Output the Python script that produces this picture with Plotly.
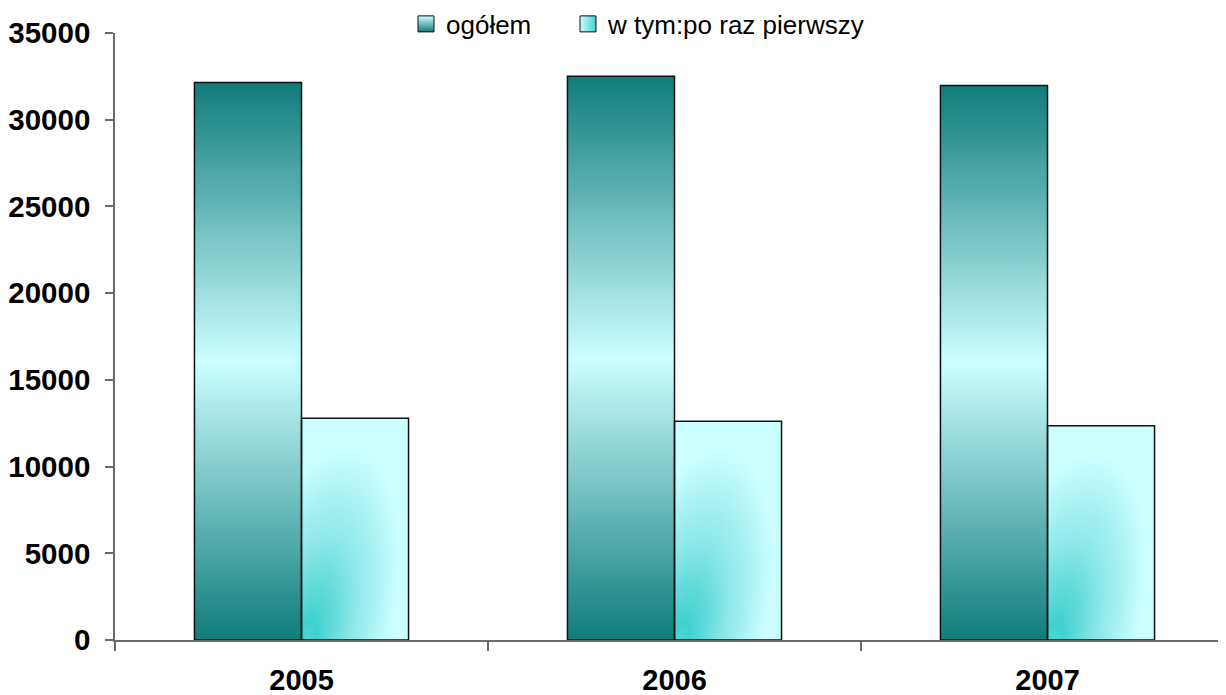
import base64
import plotly.graph_objects as go

# ---- data ----
years = ["2005", "2006", "2007"]
ogolem = [32150, 32500, 31980]
pierwszy = [12790, 12620, 12350]
series_names = ["ogółem", "w tym:po raz pierwszy"]
y_ticks = [0, 5000, 10000, 15000, 20000, 25000, 30000, 35000]

BAR_W = 0.287
DARK = "#107c7a"
LIGHT = "#ccffff"
CYAN = "#40d0d0"


def svg_uri(svg):
    return "data:image/svg+xml;base64," + base64.b64encode(svg.encode("utf-8")).decode("ascii")


svg_total = (
    '<svg xmlns="http://www.w3.org/2000/svg" width="100" height="100" viewBox="0 0 100 100" '
    'preserveAspectRatio="none"><defs><linearGradient id="g" x1="0" y1="0" x2="0" y2="1">'
    f'<stop offset="0" stop-color="{DARK}"/><stop offset="0.5" stop-color="{LIGHT}"/>'
    f'<stop offset="1" stop-color="{DARK}"/></linearGradient></defs>'
    '<rect x="0" y="0" width="100" height="100" fill="url(#g)"/></svg>'
)
svg_first = (
    '<svg xmlns="http://www.w3.org/2000/svg" width="100" height="100" viewBox="0 0 100 100" '
    'preserveAspectRatio="none"><defs>'
    '<radialGradient id="r" gradientUnits="objectBoundingBox" cx="0.05" cy="1" r="0.65" '
    'fx="0.05" fy="1" '
    'gradientTransform="translate(0.05,1) rotate(-45) scale(1.6,1) translate(-0.05,-1)">'
    f'<stop offset="0" stop-color="#52d4d4"/><stop offset="0.1" stop-color="{CYAN}"/>'
    f'<stop offset="0.5" stop-color="#8ae6e6"/><stop offset="1" stop-color="{LIGHT}"/>'
    '</radialGradient></defs>'
    '<rect x="0" y="0" width="100" height="100" fill="url(#r)"/></svg>'
)
uri_total = svg_uri(svg_total)
uri_first = svg_uri(svg_first)

fig = go.Figure()

outline = dict(color="#111111", width=1.5)
fig.add_trace(go.Bar(x=years, y=ogolem, width=BAR_W, offset=-BAR_W,
                     marker=dict(color="rgba(0,0,0,0)", line=outline),
                     showlegend=False, hoverinfo="x+y", name=series_names[0]))
fig.add_trace(go.Bar(x=years, y=pierwszy, width=BAR_W, offset=0,
                     marker=dict(color="rgba(0,0,0,0)", line=outline),
                     showlegend=False, hoverinfo="x+y", name=series_names[1]))

# legend entries (two separate legends so each can be placed exactly)
fig.add_trace(go.Scatter(x=[None], y=[None], mode="markers", name=series_names[0],
                         legend="legend",
                         marker=dict(symbol="square", size=16, color=LIGHT,
                                     gradient=dict(type="vertical", color=DARK),
                                     line=dict(color="#111111", width=1))))
fig.add_trace(go.Scatter(x=[None], y=[None], mode="markers", name=series_names[1],
                         legend="legend2",
                         marker=dict(symbol="square", size=16, color=LIGHT,
                                     gradient=dict(type="horizontal", color=CYAN),
                                     line=dict(color="#111111", width=1))))

images = []
for i, v in enumerate(ogolem):
    images.append(dict(source=uri_total, xref="x", yref="y", x=i - BAR_W, y=v,
                       sizex=BAR_W, sizey=v, xanchor="left", yanchor="top",
                       sizing="stretch", layer="below"))
for i, v in enumerate(pierwszy):
    images.append(dict(source=uri_first, xref="x", yref="y", x=i, y=v,
                       sizex=BAR_W, sizey=v, xanchor="left", yanchor="top",
                       sizing="stretch", layer="below"))

axis_col = "#6a6a6a"
W, H = 1226, 695
leg_common = dict(orientation="h", xref="container", yref="container",
                  xanchor="left", yanchor="middle", font=dict(size=26),
                  bgcolor="rgba(0,0,0,0)")
fig.update_layout(
    width=W, height=H,
    margin=dict(l=107, r=0, t=25, b=63, autoexpand=False),
    plot_bgcolor="white", paper_bgcolor="white",
    barmode="overlay",
    images=images,
    font=dict(family="Liberation Sans, Arial, sans-serif", color="black"),
    legend=dict(x=398 / W, y=0.977, **leg_common),
    legend2=dict(x=560 / W, y=0.977, **leg_common),
    xaxis=dict(type="category", range=[-0.5, 2.5], showline=True,
               linecolor=axis_col, linewidth=1.5, ticks="outside", tickson="boundaries",
               ticklen=9, tickcolor=axis_col, tickwidth=1.5,
               tickfont=dict(size=29, weight="bold"), ticklabelstandoff=13,
               showgrid=False, zeroline=False, fixedrange=True),
    yaxis=dict(range=[0, 35000], tickvals=y_ticks, tickformat="d", showline=True,
               linecolor=axis_col, linewidth=1.5, ticks="outside", ticklen=8,
               tickcolor=axis_col, tickwidth=1.5,
               tickfont=dict(size=29.5, weight="bold"), ticklabelstandoff=9,
               showgrid=False, zeroline=False, fixedrange=True),
)

fig.write_html("out.html")
